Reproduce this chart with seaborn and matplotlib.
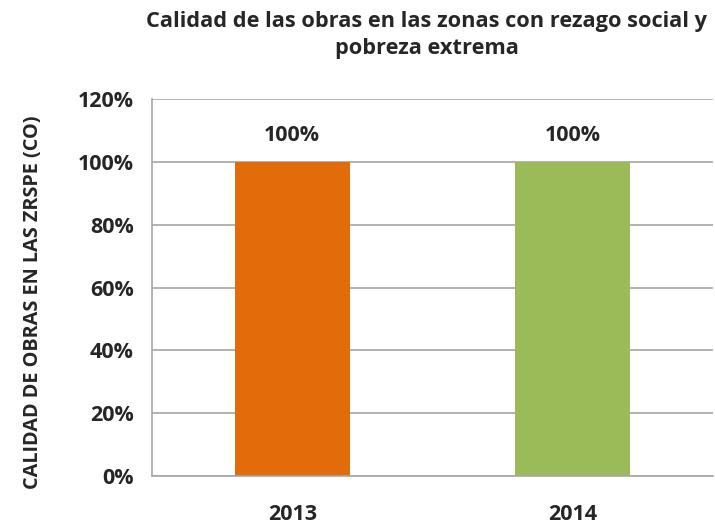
import numpy as np
import pandas as pd
import matplotlib
matplotlib.use("Agg")
import matplotlib.pyplot as plt
import seaborn as sns
from matplotlib.ticker import PercentFormatter

# === Data ===
years = ["2013", "2014"]
calidad = [1.00, 1.00]
colors = ["#E36C0A", "#9BBB59"]
y_ticks = [0, 0.2, 0.4, 0.6, 0.8, 1.0, 1.2]

title = "Calidad de las obras en las zonas con rezago social y\npobreza extrema"
ylabel = "CALIDAD DE OBRAS EN LAS ZRSPE (CO)"

df = pd.DataFrame({"Año": years, "Calidad": calidad})

# === Style ===
sns.set_style("white")
plt.rcParams["font.family"] = ["Open Sans", "DejaVu Sans"]
plt.rcParams["font.weight"] = "bold"

fig = plt.figure(figsize=(7.15, 5.25), dpi=100)
ax = fig.add_axes([0.2126, 0.0933, 0.7846, 0.718])

sns.barplot(data=df, x="Año", y="Calidad", hue="Año", palette=colors,
            width=0.41, legend=False, ax=ax, saturation=1, linewidth=0)

ax.set_ylim(0, 1.2)
ax.set_yticks(y_ticks)
ax.yaxis.set_major_formatter(PercentFormatter(1.0, decimals=0))
ax.yaxis.grid(True, color="#A6A6A6", linewidth=1.2)
ax.set_axisbelow(True)

for s in ["top", "right"]:
    ax.spines[s].set_visible(False)
for s in ["left", "bottom"]:
    ax.spines[s].set_color("#A6A6A6")
    ax.spines[s].set_linewidth(1.2)

ax.tick_params(axis="y", length=6, width=1.2, color="#A6A6A6", labelsize=15.5, pad=7)
ax.tick_params(axis="x", length=0, labelsize=15.5, pad=20)
for lbl in ax.get_xticklabels() + ax.get_yticklabels():
    lbl.set_fontweight("bold")

ax.set_xlabel("")
ax.set_ylabel(ylabel, fontsize=14.3, fontweight="bold")
ax.yaxis.set_label_coords(-0.195, 0.46)

for i, v in enumerate(calidad):
    ax.text(i, v + 0.085, f"{v:.0%}", ha="center", va="center",
            fontsize=15.5, fontweight="bold")

fig.text(0.597, 0.933, title, ha="center", va="center", fontsize=15.7,
         fontweight="bold", linespacing=1.4)

fig.savefig("out.png", dpi=100)
